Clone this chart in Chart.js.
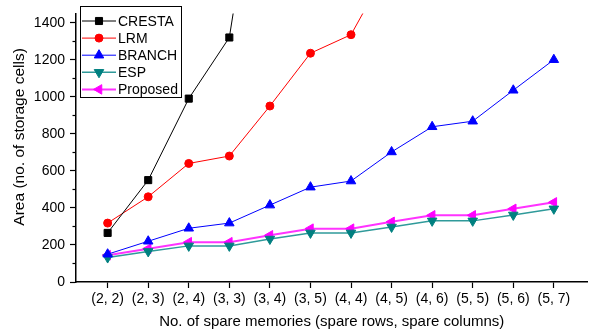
<!DOCTYPE html>
<html>
<head>
<meta charset="utf-8">
<script src="https://cdn.jsdelivr.net/npm/chart.js@4.4.1/dist/chart.umd.min.js"></script>
<style>
  html, body { margin: 0; padding: 0; background: #fff; }
  #wrap { width: 594px; height: 336px; }
</style>
</head>
<body>
<div id="wrap"><canvas id="areaChart" width="594" height="336"></canvas></div>
<script>
const categories = ['(2, 2)', '(2, 3)', '(2, 4)', '(3, 3)', '(3, 4)', '(3, 5)',
                    '(4, 4)', '(4, 5)', '(4, 6)', '(5, 5)', '(5, 6)', '(5, 7)'];
const cresta   = [265, 550, 990, 1320, 2700, null, null, null, null, null, null, null];
const lrm      = [318, 460, 640, 680, 950, 1235, 1335, 1730, null, null, null, null];
const branch   = [150, 220, 290, 318, 415, 512, 545, 702, 838, 868, 1035, 1200];
const esp      = [132, 165, 195, 195, 232, 265, 265, 297, 330, 330, 362, 395];
const proposed = [145, 180, 215, 215, 252, 288, 288, 325, 360, 360, 395, 430];
const yMajorTicks = [0, 200, 400, 600, 800, 1000, 1200, 1400];
const yMinorTicks = [100, 300, 500, 700, 900, 1100, 1300];

const FONT = 'Liberation Sans, Arial, sans-serif';

// short ticks between the labelled ones on the y axis
const minorTicks = {
    id: 'minorTicks',
    afterDraw(chart) {
        const ctx = chart.ctx;
        const y = chart.scales.y;
        ctx.save();
        ctx.strokeStyle = '#000';
        ctx.lineWidth = 1.2;
        yMinorTicks.forEach(v => {
            const py = Math.round(y.getPixelForValue(v)) + 0.5;
            ctx.beginPath();
            ctx.moveTo(y.right, py);
            ctx.lineTo(y.right - 3.5, py);
            ctx.stroke();
        });
        ctx.restore();
    }
};

// Origin-style legend: line + marker + name, boxed
const boxLegend = {
    id: 'boxLegend',
    afterDraw(chart) {
        const ctx = chart.ctx;
        const h = Chart.helpers;
        ctx.save();
        ctx.strokeStyle = '#000';
        ctx.lineWidth = 1;
        ctx.strokeRect(80.5, 6.5, 101, 91);
        ctx.font = '14px ' + FONT;
        ctx.textBaseline = 'middle';
        chart.data.datasets.forEach((ds, i) => {
            const y = 21 + i * 17.1;
            ctx.strokeStyle = ds.legendLine || ds.borderColor;
            ctx.lineWidth = ds.borderWidth;
            ctx.beginPath();
            ctx.moveTo(82, y);
            ctx.lineTo(116, y);
            ctx.stroke();
            ctx.fillStyle = ds.pointBackgroundColor;
            ctx.strokeStyle = ds.pointBorderColor;
            ctx.lineWidth = 1;
            h.drawPoint(ctx, {
                pointStyle: ds.pointStyle,
                radius: ds.pointRadius,
                rotation: ds.pointRotation || 0,
                borderWidth: 1
            }, 99, y);
            ctx.fillStyle = '#000';
            ctx.fillText(ds.label, 118, y + 1);
        });
        ctx.restore();
    }
};

function series(label, data, color, line, style, radius, rotation, width) {
    return {
        label: label,
        data: data.map((v, i) => ({x: i, y: v})),
        borderColor: line,
        legendLine: line,
        backgroundColor: color,
        pointBackgroundColor: color,
        pointBorderColor: color,
        borderWidth: width,
        pointStyle: style,
        pointRadius: radius,
        pointRotation: rotation,
        pointBorderWidth: 1,
        tension: 0,
        spanGaps: false
    };
}

const ctx = document.getElementById('areaChart').getContext('2d');
new Chart(ctx, {
    type: 'line',
    data: {
        datasets: [
            series('CRESTA', cresta, '#000000', '#000000', 'rect', 5, 0, 1),
            series('LRM', lrm, '#ff0000', '#ff0000', 'circle', 4, 0, 1),
            series('BRANCH', branch, '#0000ff', '#0000ff', 'triangle', 5.5, 0, 1),
            series('ESP', esp, '#008080', '#2f9a9a', 'triangle', 5.5, 180, 1.5),
            series('Proposed', proposed, '#ff00ff', '#ff33ff', 'triangle', 5.5, 270, 2)
        ]
    },
    options: {
        responsive: false,
        animation: false,
        events: [],
        layout: { padding: { left: 0, right: 0, top: 5, bottom: 0 } },
        plugins: {
            legend: { display: false },
            tooltip: { enabled: false }
        },
        scales: {
            x: {
                type: 'linear',
                min: -0.78,
                max: 11.83,
                afterBuildTicks: s => { s.ticks = categories.map((c, i) => ({value: i})); },
                afterFit: s => { s.height = 54; },
                grid: { drawOnChartArea: false, drawTicks: true, tickLength: 6, tickColor: '#000', tickWidth: 1.2 },
                border: { display: true, color: '#000', width: 1.5 },
                ticks: {
                    color: '#000',
                    padding: 3,
                    maxRotation: 0,
                    autoSkip: false,
                    font: { family: FONT, size: 14 },
                    callback: v => categories[v]
                },
                title: {
                    display: true,
                    text: 'No. of spare memories (spare rows, spare columns)',
                    color: '#000',
                    font: { family: FONT, size: 15 },
                    padding: { top: 0, bottom: 5 }
                }
            },
            y: {
                min: 0,
                max: 1450,
                afterBuildTicks: s => { s.ticks = yMajorTicks.map(v => ({value: v})); },
                afterFit: s => { s.width = 76; },
                grid: { drawOnChartArea: false, drawTicks: true, tickLength: 6, tickColor: '#000', tickWidth: 1.2 },
                border: { display: true, color: '#000', width: 1.5 },
                ticks: {
                    color: '#000',
                    padding: 5,
                    font: { family: FONT, size: 14 },
                    callback: v => String(v)
                },
                title: {
                    display: true,
                    text: '     Area (no. of storage cells)',
                    color: '#000',
                    font: { family: FONT, size: 15.5 },
                    padding: { top: 10, bottom: 0 }
                }
            }
        }
    },
    plugins: [minorTicks, boxLegend]
});
</script>
</body>
</html>
